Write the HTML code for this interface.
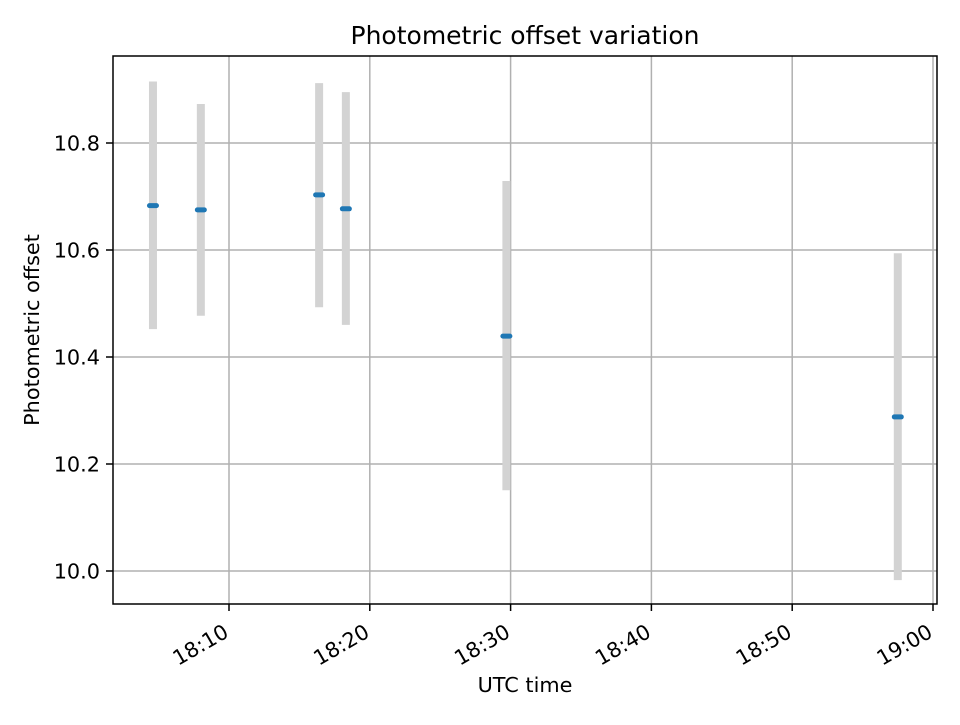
<!DOCTYPE html>
<html><head><meta charset="utf-8"><style>
body{margin:0;background:#fff;}
svg text{font-family:"DejaVu Sans","Liberation Sans",sans-serif;fill:#000;}
</style></head><body>
<svg id="chart" width="960" height="720" xmlns="http://www.w3.org/2000/svg">
<rect width="960" height="720" fill="#fff"/>
<text x="525" y="44" font-size="25" text-anchor="middle">Photometric offset variation</text>
<g id="grid"></g>
<g id="marks"></g>
<rect x="113" y="56" width="824" height="548" fill="none" stroke="#000" stroke-width="1.5"/>
<g id="axes"></g>
<text x="525" y="692" font-size="20.8" text-anchor="middle">UTC time</text>
<text transform="translate(39,330) rotate(-90)" font-size="20.8" text-anchor="middle">Photometric offset</text>
</svg>
<script>
// times in minutes after 18:00
const times = [4.6, 8.0, 16.4, 18.3, 29.7, 57.5];
const offsets = [10.683, 10.675, 10.703, 10.677, 10.439, 10.288];
const errTop = [10.915, 10.873, 10.912, 10.895, 10.729, 10.594];
const errBottom = [10.452, 10.477, 10.493, 10.460, 10.151, 9.983];
const xTickVals = [10, 20, 30, 40, 50, 60];
const xTickLabels = ["18:10", "18:20", "18:30", "18:40", "18:50", "19:00"];
const yTickVals = [10.0, 10.2, 10.4, 10.6, 10.8];
const yTickLabels = ["10.0", "10.2", "10.4", "10.6", "10.8"];

const NS = "http://www.w3.org/2000/svg";
const X = m => 229 + (m - 10) * 14.08;
const Y = v => 571 - (v - 10.0) * 535;
function mk(tag, attrs, parent){const e=document.createElementNS(NS,tag);for(const k in attrs)e.setAttribute(k,attrs[k]);parent.appendChild(e);return e;}
const grid=document.getElementById('grid'), axes=document.getElementById('axes'), marks=document.getElementById('marks');

xTickVals.forEach((t,i)=>{
  const x=X(t);
  const g=mk('line',{x1:x,x2:x,y1:56,y2:604,stroke:'#b0b0b0','stroke-width':1.5},grid);
  
  
  const tk=mk('line',{x1:x,x2:x,y1:604,y2:611,stroke:'#000','stroke-width':1.5},axes);
  
  
  const tx=mk('text',{transform:`translate(${x+1},${636}) rotate(-30)`,'font-size':20.8,'text-anchor':'end'},axes);
  tx.textContent=xTickLabels[i];
  
  
});
yTickVals.forEach((v,i)=>{
  const y=Y(v);
  const g=mk('line',{x1:113,x2:937,y1:y,y2:y,stroke:'#b0b0b0','stroke-width':1.5},grid);
  
  
  const tk=mk('line',{x1:106,x2:113,y1:y,y2:y,stroke:'#000','stroke-width':1.5},axes);
  
  
  const tx=mk('text',{x:100,y:y+7.5,'font-size':20.8,'text-anchor':'end'},axes);
  tx.textContent=yTickLabels[i];
  
  
});
times.forEach((t,i)=>{
  const x=X(t);
  const eb=mk('line',{x1:x,x2:x,y1:Y(errTop[i]),y2:Y(errBottom[i]),stroke:'#d3d3d3','stroke-width':8},marks);
  
  
});
times.forEach((t,i)=>{
  const x=X(t), y=Y(offsets[i]);
  const p=mk('line',{x1:x-3.5,x2:x+3.5,y1:y,y2:y,stroke:'#1f77b4','stroke-width':5,'stroke-linecap':'round'},marks);
  
  
});
</script>
</body></html>
